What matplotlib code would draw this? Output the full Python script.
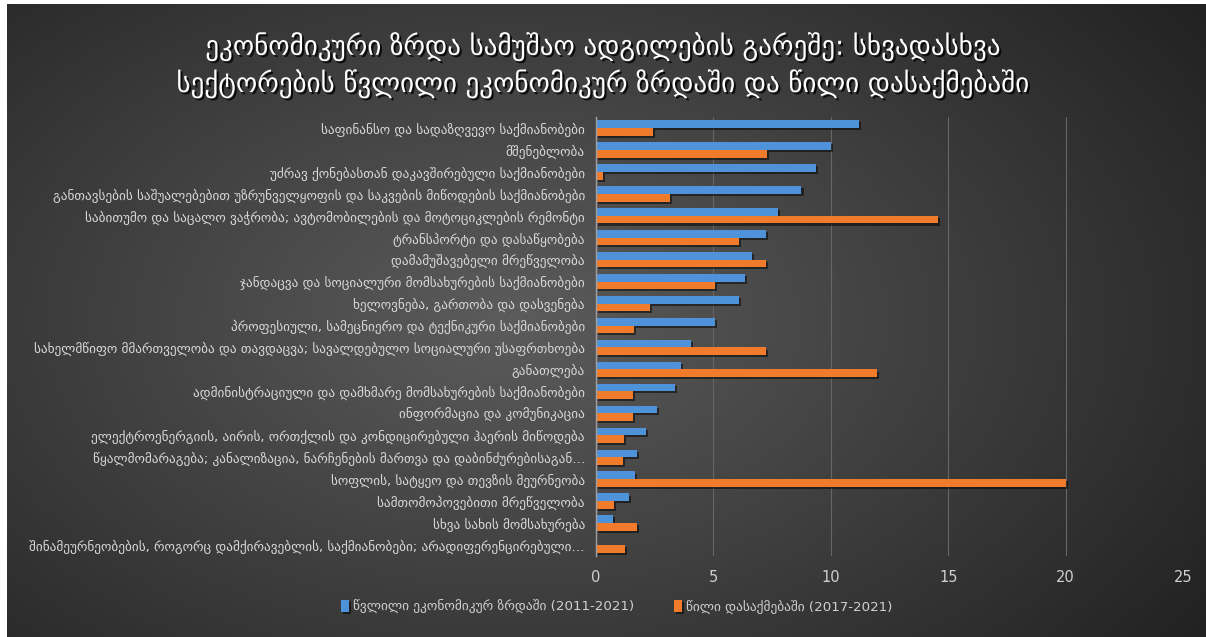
import numpy as np
import matplotlib
matplotlib.use("Agg")
import matplotlib.pyplot as plt
import matplotlib.patheffects as pe

plt.rcParams['font.family'] = ['DejaVu Sans']

title = "ეკონომიკური ზრდა სამუშაო ადგილების გარეშე: სხვადასხვა\nსექტორების წვლილი ეკონომიკურ ზრდაში და წილი დასაქმებაში"

categories = [
    "საფინანსო და სადაზღვევო საქმიანობები",
    "მშენებლობა",
    "უძრავ ქონებასთან დაკავშირებული საქმიანობები",
    "განთავსების საშუალებებით უზრუნველყოფის და საკვების მიწოდების საქმიანობები",
    "საბითუმო და საცალო ვაჭრობა; ავტომობილების და მოტოციკლების რემონტი",
    "ტრანსპორტი და დასაწყობება",
    "დამამუშავებელი მრეწველობა",
    "ჯანდაცვა და სოციალური მომსახურების საქმიანობები",
    "ხელოვნება, გართობა და დასვენება",
    "პროფესიული, სამეცნიერო და ტექნიკური საქმიანობები",
    "სახელმწიფო მმართველობა და თავდაცვა; სავალდებულო სოციალური უსაფრთხოება",
    "განათლება",
    "ადმინისტრაციული და დამხმარე მომსახურების საქმიანობები",
    "ინფორმაცია და კომუნიკაცია",
    "ელექტროენერგიის, აირის, ორთქლის და კონდიცირებული ჰაერის მიწოდება",
    "წყალმომარაგება; კანალიზაცია, ნარჩენების მართვა და დაბინძურებისაგან…",
    "სოფლის, სატყეო და თევზის მეურნეობა",
    "სამთომოპოვებითი მრეწველობა",
    "სხვა სახის მომსახურება",
    "შინამეურნეობების, როგორც დამქირავებლის, საქმიანობები; არადიფერენცირებული…",
]

growth_share = [11.2, 10.0, 9.35, 8.75, 7.75, 7.25, 6.65, 6.35, 6.1, 5.05,
                4.05, 3.6, 3.35, 2.6, 2.13, 1.75, 1.65, 1.4, 0.72, 0.0]
employment_share = [2.42, 7.3, 0.3, 3.15, 14.55, 6.08, 7.22, 5.07, 2.28, 1.6,
                    7.25, 11.95, 1.58, 1.58, 1.2, 1.13, 20.0, 0.77, 1.75, 1.25]

series_names = ["წვლილი ეკონომიკურ ზრდაში (2011-2021)", "წილი დასაქმებაში (2017-2021)"]
colors = ["#4E93DA", "#F07B2A"]
xticks = [0, 5, 10, 15, 20, 25]

W, H = 1206, 637
fig = plt.figure(figsize=(W / 100, H / 100), dpi=100)
fig.patch.set_facecolor("white")

# background with radial gradient
bg = fig.add_axes([7 / W, 0, 1 - 7 / W, 1 - 4 / H], zorder=-10)
yy, xx = np.mgrid[0:1:300j, 0:1:600j]
r = np.sqrt(((xx - 0.42) / 0.75) ** 2 + ((yy - 0.5) / 0.9) ** 2)
v = np.clip(0.36 - 0.24 * r, 0.13, 0.36)
img = np.dstack([v, v, v])
bg.imshow(img, aspect="auto", extent=[0, 1, 0, 1], origin="lower")
bg.set_axis_off()

ax = fig.add_axes([596 / W, 1 - 556 / H, (1183 - 596) / W, (556 - 117) / H])
ax.set_facecolor("none")

y = np.arange(len(categories))
h = 0.35
shadow = [pe.SimplePatchShadow(offset=(1.5, -1.5), shadow_rgbFace="black", alpha=0.5), pe.Normal()]
b1 = ax.barh(y - h / 2, growth_share, height=h, color=colors[0], label=series_names[0], zorder=3)
b2 = ax.barh(y + h / 2, employment_share, height=h, color=colors[1], label=series_names[1], zorder=3)
for b in list(b1) + list(b2):
    b.set_path_effects(shadow)

ax.set_ylim(len(categories) - 0.5, -0.5)
ax.set_xlim(0, 25)
ax.set_xticks(xticks)
ax.set_yticks(y)
ax.set_yticklabels(categories)
ax.tick_params(axis="y", length=0, pad=8, labelsize=9.5, labelcolor="#d9d9d9")
ax.tick_params(axis="x", length=0, pad=10, labelsize=10.5, labelcolor="#d0d0d0")
ax.grid(axis="x", color="#666666", linewidth=0.8, zorder=0)
for s in ["top", "right", "bottom"]:
    ax.spines[s].set_visible(False)
ax.spines["left"].set_color("#a0a0a0")
ax.spines["left"].set_linewidth(1.0)
ax.spines["left"].set_zorder(4)

fig.text(603 / W, 1 - 65 / H, title, ha="center", va="center", fontsize=19.5,
         color="white", linespacing=1.35,
         path_effects=[pe.withSimplePatchShadow(offset=(1.5, -1.5), shadow_rgbFace="black", alpha=0.8)])

leg = fig.legend(handles=[b1, b2], labels=series_names, loc="center",
                 bbox_to_anchor=(617 / W, 1 - 607 / H), ncol=2, frameon=False,
                 fontsize=9.6, handlelength=0.6, handleheight=1.0, handletextpad=0.3,
                 columnspacing=3.0, labelcolor="#d0d0d0")

fig.savefig("out.png", dpi=100, facecolor=fig.get_facecolor())
